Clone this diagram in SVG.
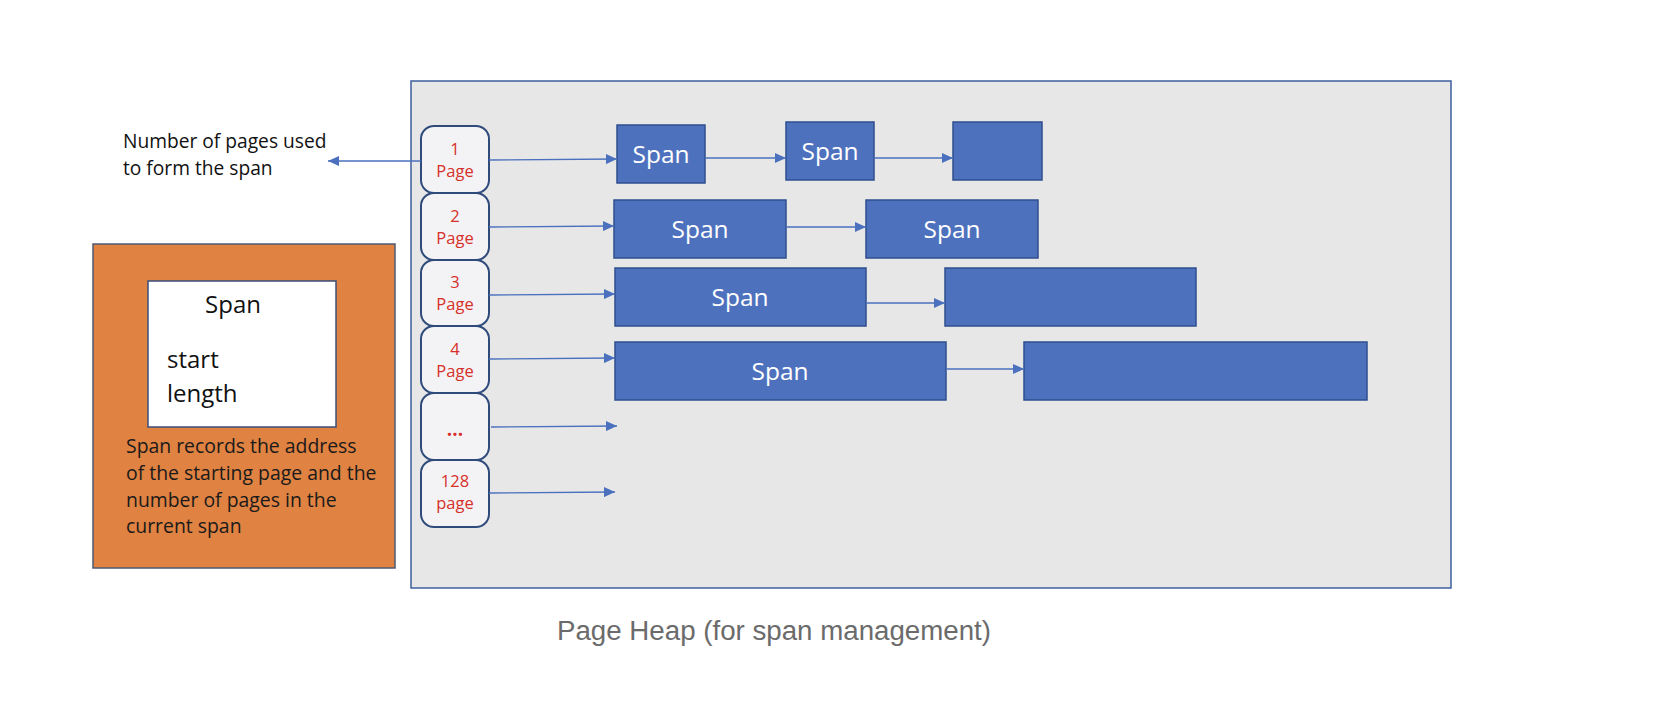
<svg xmlns="http://www.w3.org/2000/svg" width="1666" height="714" viewBox="0 0 1666 714">
<style>
.heap{fill:#e7e7e7;stroke:#3f5f9f;stroke-width:1.5}
.pg{fill:#f3f3f5;stroke:#2f4b7c;stroke-width:2}
.pgt{font-family:"Open Sans",sans-serif;font-size:16.5px;fill:#d7302a;text-anchor:middle}
.span{fill:#4e71be;stroke:#2f4f8f;stroke-width:1.5}
.st{font-family:"Open Sans",sans-serif;font-size:24.5px;fill:#ffffff;text-anchor:middle}
.conn line{stroke:#4a70be;stroke-width:1.3;fill:none}
.lbl{font-family:"Open Sans",sans-serif;font-size:19.2px;fill:#111111}
.blk{font-family:"Open Sans",sans-serif;font-size:24px;fill:#111111}
.para{font-family:"Open Sans",sans-serif;font-size:19.4px;fill:#1a1a1a}
.cap{font-family:"Liberation Sans",Arial,sans-serif;font-size:27.7px;fill:#6b6b6b}
</style>
<defs>
<marker id="ah" markerUnits="userSpaceOnUse" markerWidth="12" markerHeight="10" refX="11" refY="5" orient="auto">
<path d="M0,0 L11,5 L0,10 z" fill="#4a70be"/>
</marker>
</defs>
<rect width="1666" height="714" fill="#ffffff"/>

<g id="page-heap">
<rect class="heap" x="411" y="81" width="1040" height="507"/>
</g>

<g id="legend">
<rect x="93" y="244" width="302" height="324" fill="#df8242" stroke="#4f5a73" stroke-width="1.5"/>
<rect x="148" y="281" width="188" height="146" fill="#ffffff" stroke="#3b4f7a" stroke-width="1.5"/>
<text class="blk" x="233" y="313" text-anchor="middle">Span</text>
<text class="blk" x="167" y="368">start</text>
<text class="blk" x="167" y="402">length</text>
<text class="para" x="126" y="453">Span records the address</text>
<text class="para" x="126" y="480">of the starting page and the</text>
<text class="para" x="126" y="507">number of pages in the</text>
<text class="para" x="126" y="533">current span</text>
</g>

<g id="label-pages">
<text class="lbl" x="123" y="148">Number of pages used</text>
<text class="lbl" x="123" y="175">to form the span</text>
</g>

<g id="p1"><rect class="pg" x="421" y="126" width="68" height="67" rx="13"/><text class="pgt" x="455" y="155">1</text><text class="pgt" x="455" y="177">Page</text></g>
<g id="p2"><rect class="pg" x="421" y="193" width="68" height="67" rx="13"/><text class="pgt" x="455" y="222">2</text><text class="pgt" x="455" y="244">Page</text></g>
<g id="p3"><rect class="pg" x="421" y="260" width="68" height="66" rx="13"/><text class="pgt" x="455" y="288">3</text><text class="pgt" x="455" y="310">Page</text></g>
<g id="p4"><rect class="pg" x="421" y="326" width="68" height="67" rx="13"/><text class="pgt" x="455" y="355">4</text><text class="pgt" x="455" y="377">Page</text></g>
<g id="p5"><rect class="pg" x="421" y="393" width="68" height="67" rx="13"/><text class="pgt" x="455" y="436" style="font-size:19px;font-weight:bold">...</text></g>
<g id="p128"><rect class="pg" x="421" y="460" width="68" height="67" rx="13"/><text class="pgt" x="455" y="487">128</text><text class="pgt" x="455" y="509">page</text></g>

<g id="s1a"><rect class="span" x="617" y="125" width="88" height="58"/><text class="st" x="661" y="163">Span</text></g>
<g id="s1b"><rect class="span" x="786" y="122" width="88" height="58"/><text class="st" x="830" y="160">Span</text></g>
<g id="s1c"><rect class="span" x="953" y="122" width="89" height="58"/></g>
<g id="s2a"><rect class="span" x="614" y="200" width="172" height="58"/><text class="st" x="700" y="238">Span</text></g>
<g id="s2b"><rect class="span" x="866" y="200" width="172" height="58"/><text class="st" x="952" y="238">Span</text></g>
<g id="s3a"><rect class="span" x="615" y="268" width="251" height="58"/><text class="st" x="740" y="306">Span</text></g>
<g id="s3b"><rect class="span" x="945" y="268" width="251" height="58"/></g>
<g id="s4a"><rect class="span" x="615" y="342" width="331" height="58"/><text class="st" x="780" y="380">Span</text></g>
<g id="s4b"><rect class="span" x="1024" y="342" width="343" height="58"/></g>

<g id="caption"><text class="cap" x="557" y="640">Page Heap (for span management)</text></g>

<g id="connectors" class="conn">
<line x1="421" y1="161" x2="328" y2="161" marker-end="url(#ah)"/>
<line x1="489" y1="160" x2="617" y2="159" marker-end="url(#ah)"/>
<line x1="705" y1="158" x2="786" y2="158" marker-end="url(#ah)"/>
<line x1="874" y1="158" x2="953" y2="158" marker-end="url(#ah)"/>
<line x1="489" y1="227" x2="614" y2="226" marker-end="url(#ah)"/>
<line x1="786" y1="227" x2="866" y2="227" marker-end="url(#ah)"/>
<line x1="489" y1="295" x2="615" y2="294" marker-end="url(#ah)"/>
<line x1="866" y1="303" x2="945" y2="303" marker-end="url(#ah)"/>
<line x1="489" y1="359" x2="615" y2="358" marker-end="url(#ah)"/>
<line x1="946" y1="369" x2="1024" y2="369" marker-end="url(#ah)"/>
<line x1="491" y1="427" x2="617" y2="426" marker-end="url(#ah)"/>
<line x1="489" y1="493" x2="615" y2="492" marker-end="url(#ah)"/>
</g>
</svg>
